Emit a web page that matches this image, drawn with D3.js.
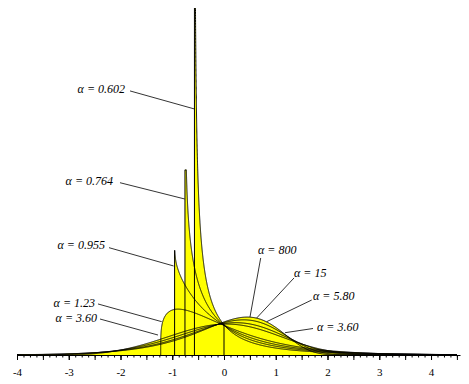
<!DOCTYPE html>
<html lang="en">
<head>
<meta charset="UTF-8">
<title>Standardized Weibull densities</title>
<script src="https://d3js.org/d3.v7.min.js"></script>
<style>
  body { margin: 0; background: #fff; }
  svg text { font-family: "Liberation Serif", "Times New Roman", Times, serif; fill: #000; }
  .axis text { font-size: 11px; }
  .axis path, .axis line { stroke: #000; stroke-width: 1px; }
  .area { fill: #ffff00; stroke: none; }
  .curve { fill: none; stroke: #000; stroke-width: 1px; }
  .leader { stroke: #000; stroke-width: 0.8px; }
  .alpha-label { font-style: italic; font-size: 12px; }
</style>
</head>
<body>
<div id="chart"></div>
<script>
// shape parameter of every curve drawn
const alphas = [0.602, 0.764, 0.955, 1.23, 3.60, 5.80, 15, 800];
// height reached by the spike at the left end (null = no spike)
const spikeTops = [4.4, 2.30, 1.30, null, null, null, null, null];
const xTicks = [-4, -3, -2, -1, 0, 1, 2, 3, 4];

// labels: text, text anchor point, leader start, leader end (data units)
const labelTexts = ["α = 0.602", "α = 0.764", "α = 0.955", "α = 1.23", "α = 3.60",
                    "α = 800", "α = 15", "α = 5.80", "α = 3.60"];
const labelSide  = ["end", "end", "end", "end", "end", "start", "start", "start", "start"];
const labelPos   = [[-1.913, 3.304], [-2.145, 2.161], [-2.300, 1.366], [-2.493, 0.646], [-2.454, 0.460],
                    [0.657, 1.304], [1.353, 1.019], [1.720, 0.733], [1.797, 0.348]];
const leaderFrom = [[-1.816, 3.280], [-2.010, 2.140], [-2.222, 1.333], [-2.435, 0.634], [-2.396, 0.447],
                    [0.709, 1.205], [1.353, 0.957], [1.695, 0.683], [1.720, 0.329]];
const leaderTo   = [[-0.572, 3.056], [-0.760, 1.938], [-0.975, 1.106], [-1.204, 0.414], [-1.275, 0.248],
                    [0.502, 0.472], [0.632, 0.460], [0.825, 0.414], [1.179, 0.277]];

const width = 469, height = 384;
const x = d3.scaleLinear().domain([-4, 4.56]).range([17, 460]);
const y = d3.scaleLinear().domain([0, 4.31]).range([355, 8]);

function gamma(z) {
  if (z < 0.5) return Math.PI / (Math.sin(Math.PI * z) * gamma(1 - z));
  z -= 1;
  const c = [0.99999999999980993, 676.5203681218851, -1259.1392167224028, 771.32342877765313,
    -176.61502916214059, 12.507343278686905, -0.13857109526572012, 9.9843695780195716e-6,
    1.5056327351493116e-7];
  let s = c[0];
  for (let i = 1; i < 9; i++) s += c[i] / (z + i);
  const t = z + 7.5;
  return Math.sqrt(2 * Math.PI) * Math.pow(t, z + 0.5) * Math.exp(-t) * s;
}

// density of the Weibull law with shape a, shifted to mean 0 and scaled to sd 1
function weibull(a) {
  const g1 = gamma(1 + 1 / a), g2 = gamma(1 + 2 / a);
  const mu = g1, sd = Math.sqrt(g2 - g1 * g1);
  return {
    zmin: -mu / sd,
    pdf: z => {
      const t = mu + sd * z;
      if (t <= 0) return 0;
      return sd * a * Math.pow(t, a - 1) * Math.exp(-Math.pow(t, a));
    }
  };
}

const svg = d3.select("#chart").append("svg")
  .attr("width", width)
  .attr("height", height);

svg.append("defs").append("clipPath").attr("id", "plot")
  .append("rect").attr("x", 17).attr("y", 8).attr("width", 443).attr("height", 347);

const curves = alphas.map((a, i) => {
  const w = weibull(a);
  const z0 = Math.max(w.zmin, -4), z1 = 4.5;
  const n = 2000;
  const cap = spikeTops[i];
  const pts = [[z0, 0]];
  for (let k = 0; k <= n; k++) {
    const u = k / n;
    const z = z0 + (z1 - z0) * u * u * u;
    let v = w.pdf(z);
    if (!isFinite(v)) v = cap;
    if (cap != null) v = Math.min(v, cap);
    pts.push([z, v]);
  }
  return pts;
});

const plot = svg.append("g").attr("clip-path", "url(#plot)");

const area = d3.area().x(d => x(d[0])).y0(y(0)).y1(d => y(d[1]));
const line = d3.line().x(d => x(d[0])).y(d => y(d[1]));

plot.selectAll("path.area")
  .data(curves)
  .join("path")
  .attr("class", "area")
  .attr("d", area);

// line at the mean, up to where the curves cross
const atZero = weibull(alphas[4]).pdf(0);
plot.append("line")
  .attr("class", "curve")
  .attr("x1", x(0)).attr("x2", x(0))
  .attr("y1", y(0)).attr("y2", y(atZero));

plot.selectAll("path.curve")
  .data(curves)
  .join("path")
  .attr("class", "curve")
  .attr("d", line);

// x axis with minor ticks
svg.append("g")
  .attr("class", "axis")
  .attr("transform", `translate(0,${y(0)})`)
  .call(d3.axisBottom(x).tickValues(d3.range(-4, 4.51, 0.125)).tickSize(2.5).tickSizeOuter(0).tickFormat(""));

svg.append("g")
  .attr("class", "axis")
  .attr("transform", `translate(0,${y(0)})`)
  .call(d3.axisBottom(x).tickValues(d3.range(-4, 4.51, 0.5)).tickSize(5).tickSizeOuter(0).tickFormat(""))
  .call(g => g.select(".domain").remove());

svg.append("g")
  .attr("class", "axis")
  .attr("transform", `translate(0,${y(0)})`)
  .call(d3.axisBottom(x).tickValues(xTicks).tickSize(5).tickPadding(8).tickSizeOuter(0)
    .tickFormat(d => d < 0 ? "-" + Math.abs(d) : String(d)))
  .call(g => g.select(".domain").remove())
  .attr("font-family", null);

// labels and leader lines
const labels = svg.append("g");
labelTexts.forEach((t, i) => {
  labels.append("line")
    .attr("class", "leader")
    .attr("x1", x(leaderFrom[i][0])).attr("y1", y(leaderFrom[i][1]))
    .attr("x2", x(leaderTo[i][0])).attr("y2", y(leaderTo[i][1]));
  labels.append("text")
    .attr("class", "alpha-label")
    .attr("x", x(labelPos[i][0]))
    .attr("y", y(labelPos[i][1]))
    .attr("dy", "0.35em")
    .attr("text-anchor", labelSide[i])
    .text(t);
});
</script>
</body>
</html>
